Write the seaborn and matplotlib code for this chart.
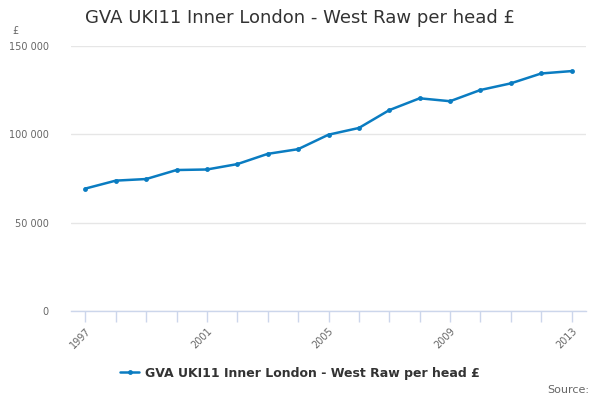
import pandas as pd
import matplotlib
matplotlib.use("Agg")
import matplotlib.pyplot as plt
import seaborn as sns
from matplotlib.ticker import FuncFormatter

years = list(range(1997, 2014))
gva = [69300, 73800, 74700, 79800, 80100, 83150, 88950, 91600, 99800, 103600,
       113700, 120400, 118750, 125100, 128850, 134450, 135800]
series_name = "GVA UKI11 Inner London - West Raw per head £"
tick_years = [1997, 2001, 2005, 2009, 2013]
y_ticks = [0, 50000, 100000, 150000]

df = pd.DataFrame({"year": years, "value": gva})

sns.set_style("white")
plt.rcParams["font.family"] = ["DejaVu Sans"]

fig = plt.figure(figsize=(6, 4), dpi=100)
ax = fig.add_axes([0.118, 0.2225, 0.859, 0.6625])

line_color = "#0a7cc1"
sns.lineplot(data=df, x="year", y="value", ax=ax, color=line_color,
             marker="o", markersize=3.5, markeredgewidth=0, linewidth=1.8,
             label=series_name)

ax.set_xlim(1996.52, 2013.48)
ax.set_ylim(0, 150000)
ax.set_yticks(y_ticks)
ax.yaxis.set_major_formatter(FuncFormatter(lambda v, p: f"{int(v):,}".replace(",", " ")))
ax.set_xticks(years, minor=True)
ax.set_xticks(tick_years)
ax.set_xticklabels([str(y) for y in tick_years], rotation=45, ha="right",
                   rotation_mode="anchor")
ax.tick_params(axis="x", which="both", bottom=True, length=8, width=1,
               color="#ccd6eb", labelsize=7, labelcolor="#666666", pad=3,
               direction="out")
ax.tick_params(axis="y", length=0, labelsize=7, labelcolor="#666666", pad=16)
ax.grid(axis="y", color="#e6e6e6", linewidth=1)
for s in ["top", "right", "left"]:
    ax.spines[s].set_visible(False)
ax.spines["bottom"].set_color("#ccd6eb")
ax.spines["bottom"].set_linewidth(1)
ax.set_xlabel("")
ax.set_ylabel("")

fig.text(0.5, 0.955, series_name, ha="center", va="center", fontsize=13,
         color="#333333")
fig.text(0.02, 0.922, "£", ha="left", va="center", fontsize=7, color="#666666")
fig.text(0.982, 0.025, "Source:", ha="right", va="center", fontsize=8,
         color="#666666")

leg = ax.legend(loc="center", bbox_to_anchor=(0.5 - (0.118 - 0.5 * (1 - 0.859)) / 0.859, -0.235),
                frameon=False, fontsize=9, handlelength=1.5, handletextpad=0.5)
for t in leg.get_texts():
    t.set_fontweight("bold")
    t.set_color("#333333")

fig.savefig("out.png", dpi=100)
